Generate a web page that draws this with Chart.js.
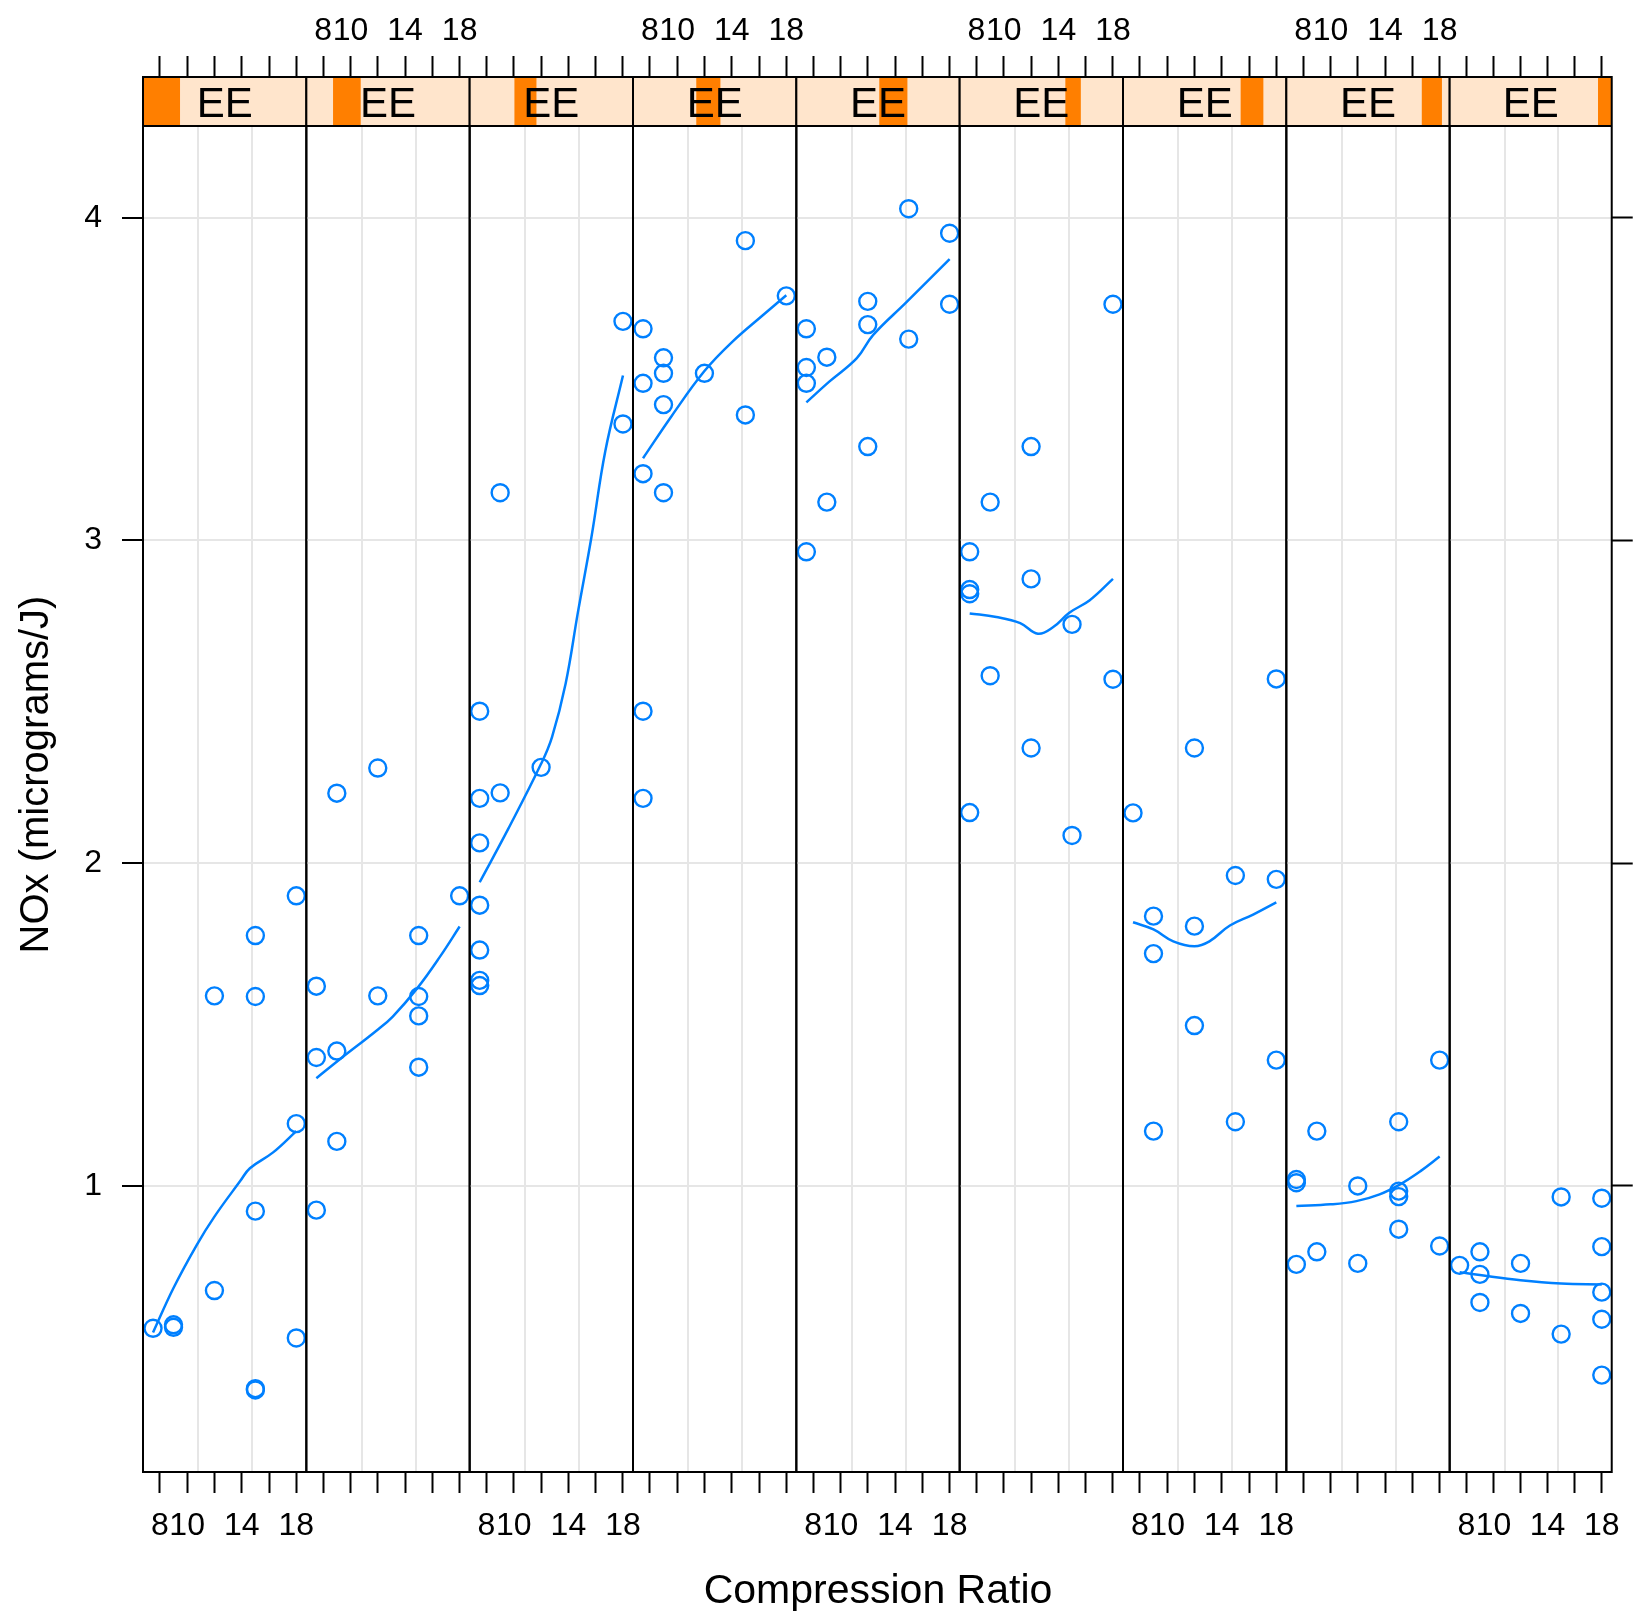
<!DOCTYPE html>
<html>
<head>
<meta charset="utf-8">
<script src="https://cdn.jsdelivr.net/npm/chart.js@4.4.1/dist/chart.umd.min.js"></script>
<style>
  html, body { margin: 0; padding: 0; background: #ffffff; }
  #wrap { position: relative; width: 1635px; height: 1619px; }
  #wrap canvas { position: absolute; left: 0; top: 0; }
</style>
</head>
<body>
<div id="wrap"></div>
<script>
// NOx against compression ratio, one panel per EE shingle interval
const panelC = [
  [7.5, 9, 9, 12, 12, 15, 15, 15, 15, 15, 18, 18, 18],
  [7.5, 7.5, 7.5, 9, 9, 9, 12, 12, 15, 15, 15, 15, 18],
  [7.5, 7.5, 7.5, 7.5, 7.5, 7.5, 7.5, 9, 9, 12, 18, 18],
  [7.5, 7.5, 7.5, 7.5, 7.5, 9, 9, 9, 9, 12, 15, 15, 18],
  [7.5, 7.5, 7.5, 7.5, 9, 9, 12, 12, 12, 15, 15, 18, 18],
  [7.5, 7.5, 7.5, 7.5, 9, 9, 12, 12, 12, 15, 15, 18, 18],
  [7.5, 9, 9, 9, 12, 12, 12, 15, 15, 18, 18, 18],
  [7.5, 7.5, 7.5, 9, 9, 12, 12, 15, 15, 15, 15, 18, 18],
  [7.5, 9, 9, 9, 12, 12, 15, 15, 18, 18, 18, 18, 18]
];
const panelNOx = [
  [0.559, 0.570, 0.562, 1.589, 0.676, 1.776, 1.587, 0.922, 0.372, 0.368, 1.899, 1.193, 0.529],
  [1.619, 1.398, 0.925, 2.217, 1.418, 1.138, 2.295, 1.589, 1.776, 1.587, 1.527, 1.368, 1.899],
  [2.471, 2.201, 2.063, 1.870, 1.731, 1.637, 1.621, 3.148, 2.218, 2.297, 3.679, 3.361],
  [3.656, 3.487, 3.207, 2.471, 2.201, 3.566, 3.518, 3.421, 3.148, 3.518, 3.929, 3.389, 3.758],
  [3.656, 3.536, 3.487, 2.965, 3.568, 3.119, 3.741, 3.669, 3.291, 4.028, 3.624, 3.952, 3.732],
  [2.965, 2.848, 2.835, 2.157, 3.119, 2.581, 3.291, 2.881, 2.357, 2.740, 2.086, 3.732, 2.570],
  [2.156, 1.836, 1.720, 1.170, 2.357, 1.805, 1.497, 1.962, 1.199, 2.571, 1.950, 1.390],
  [1.020, 1.010, 0.757, 1.170, 0.796, 1.000, 0.760, 1.199, 0.984, 0.967, 0.866, 1.390, 0.814],
  [0.754, 0.796, 0.726, 0.639, 0.760, 0.605, 0.966, 0.541, 0.962, 0.812, 0.671, 0.587, 0.414]
];
// smooth fit per panel
const smoothC = [
  [7.5, 9, 10.7, 12, 13.9, 14.6, 16.3, 18],
  [7.5, 9.2, 11.9, 13.1, 14.9, 16.6, 18],
  [7.5, 9.6, 12.0, 12.8, 13.8, 14.7, 15.7, 16.7, 18],
  [7.5, 9.6, 12.0, 14.0, 16.45, 18],
  [7.5, 9.2, 11.2, 12.4, 14.8, 18],
  [7.5, 9.45, 11.2, 12.5, 13.6, 14.8, 16.3, 18],
  [7.5, 9.0, 10.45, 12.0, 13.1, 14.6, 16.3, 18],
  [7.5, 10.0, 11.9, 13.6, 15.1, 16.6, 18],
  [7.5, 9, 12, 15, 18]
];
const smoothNOx = [
  [0.546, 0.684, 0.817, 0.905, 1.016, 1.055, 1.104, 1.170],
  [1.334, 1.392, 1.481, 1.525, 1.613, 1.713, 1.804],
  [1.941, 2.107, 2.308, 2.391, 2.557, 2.778, 3.013, 3.276, 3.511],
  [3.255, 3.386, 3.525, 3.614, 3.704, 3.760],
  [3.428, 3.493, 3.565, 3.637, 3.737, 3.872],
  [2.774, 2.763, 2.744, 2.711, 2.731, 2.776, 2.815, 2.881],
  [1.817, 1.795, 1.758, 1.743, 1.758, 1.807, 1.841, 1.879],
  [0.938, 0.943, 0.953, 0.974, 1.005, 1.046, 1.091],
  [0.733, 0.724, 0.708, 0.698, 0.695]
];
// EE shingle intervals and the full EE range
const eeLow  = [0.535, 0.649, 0.726, 0.805, 0.889, 0.986, 1.037, 1.113, 1.173];
const eeHigh = [0.693, 0.767, 0.820, 0.908, 1.009, 1.052, 1.134, 1.199, 1.232];
const eeRange = [0.535, 1.232];
const stripLabel = 'EE';

const xTicks = [8, 10, 12, 14, 16, 18];
const xLabelled = [8, 10, 14, 18];
const yTicks = [1, 2, 3, 4];
const xRefLines = [10.82, 14.78];
const xTitle = 'Compression Ratio';
const yTitle = 'NOx (micrograms/J)';

// ---- layout ----
const W = 1635, H = 1619;
const PANEL_L = 143, PANEL_R = 1613, PANEL_T = 126, PANEL_B = 1472, STRIP_T = 77;
const X_TITLE_Y = 1592;
const N = panelC.length;
const panelW = (PANEL_R - PANEL_L) / N;
const xLim = [6.765, 18.735];
const yLim = [0.1137, 4.2843];
// the y scale runs on above the panel so the strip sits inside the chart area
const yTop = yLim[1] + (yLim[1] - yLim[0]) * (PANEL_T - STRIP_T) / (PANEL_B - PANEL_T);

const FONT = '"Liberation Sans", Arial, Helvetica, sans-serif';
const BLUE = '#0080ff';
Chart.defaults.font.family = FONT;
Chart.defaults.color = '#000000';

const panelDecor = {
  id: 'panelDecor',
  beforeDatasetsDraw(chart, args, opts) {
    const { ctx, chartArea: a, scales: { x, y } } = chart;
    const k = opts.index;
    const pTop = y.getPixelForValue(yLim[1]);
    const pBot = y.getPixelForValue(yLim[0]);
    const w = a.right - a.left;
    ctx.save();
    // reference lines
    ctx.strokeStyle = '#e6e6e6';
    ctx.lineWidth = 2;
    xRefLines.forEach(v => {
      const px = Math.round(x.getPixelForValue(v));
      ctx.beginPath();
      ctx.moveTo(px, pTop);
      ctx.lineTo(px, pBot);
      ctx.stroke();
    });
    // strip
    ctx.fillStyle = '#ffe5cc';
    ctx.fillRect(a.left, a.top, w, pTop - a.top);
    const f0 = (eeLow[k] - eeRange[0]) / (eeRange[1] - eeRange[0]);
    const f1 = (eeHigh[k] - eeRange[0]) / (eeRange[1] - eeRange[0]);
    ctx.fillStyle = '#ff7f00';
    ctx.fillRect(a.left + f0 * w, a.top, (f1 - f0) * w, pTop - a.top);
    ctx.fillStyle = '#000000';
    ctx.font = '42px ' + FONT;
    ctx.textAlign = 'center';
    ctx.textBaseline = 'middle';
    ctx.fillText(stripLabel, a.left + w / 2, (a.top + pTop) / 2 + 4);
    ctx.restore();
  },
  afterDraw(chart, args, opts) {
    const { ctx, chartArea: a, scales: { y } } = chart;
    const pTop = y.getPixelForValue(yLim[1]);
    ctx.save();
    ctx.strokeStyle = '#000000';
    ctx.lineWidth = 2;
    ctx.strokeRect(a.left, a.top, a.right - a.left, a.bottom - a.top);
    ctx.beginPath();
    ctx.moveTo(a.left, pTop);
    ctx.lineTo(a.right, pTop);
    ctx.stroke();
    // shared x-axis title, centred under the whole row of panels
    if (opts.index === N - 1) {
      ctx.fillStyle = '#000000';
      ctx.font = '41px ' + FONT;
      ctx.textAlign = 'center';
      ctx.textBaseline = 'middle';
      ctx.fillText(xTitle, (PANEL_L + PANEL_R) / 2, X_TITLE_Y);
    }
    ctx.restore();
  }
};

function xAxis(k, position) {
  const showLabels = position === 'bottom' ? k % 2 === 0 : k % 2 === 1;
  return {
    type: 'linear',
    position: position,
    min: xLim[0],
    max: xLim[1],
    afterBuildTicks: s => { s.ticks = xTicks.map(v => ({ value: v })); },
    afterFit: s => { s.height = position === 'bottom' ? H - PANEL_B : STRIP_T; },
    ticks: {
      autoSkip: false, maxRotation: 0, minRotation: 0,
      padding: position === 'bottom' ? 14 : 6,
      color: '#000000',
      font: { size: 32, family: FONT },
      callback: v => (showLabels && xLabelled.includes(v)) ? String(v) : ''
    },
    grid: { drawOnChartArea: false, drawTicks: true, tickLength: 21, tickColor: '#000000', tickWidth: 2 },
    border: { display: false }
  };
}

const wrap = document.getElementById('wrap');
for (let k = 0; k < N; k++) {
  const canvas = document.createElement('canvas');
  canvas.width = W;
  canvas.height = H;
  canvas.style.width = W + 'px';
  canvas.style.height = H + 'px';
  wrap.appendChild(canvas);

  const left = PANEL_L + k * panelW;
  const right = left + panelW;
  const points = panelC[k].map((c, i) => ({ x: c, y: panelNOx[k][i] }));
  const smooth = smoothC[k].map((c, i) => ({ x: c, y: smoothNOx[k][i] }));

  const scales = {
    x: xAxis(k, 'bottom'),
    xTop: xAxis(k, 'top'),
    y: {
      type: 'linear', position: 'left', min: yLim[0], max: yTop,
      afterBuildTicks: s => { s.ticks = yTicks.map(v => ({ value: v })); },
      afterFit: s => { s.width = k === 0 ? PANEL_L : 0; },
      ticks: { display: k === 0, padding: 20, color: '#000000', font: { size: 32, family: FONT } },
      grid: { drawOnChartArea: true, color: '#e6e6e6', lineWidth: 2,
              drawTicks: k === 0, tickLength: 21, tickColor: '#000000', tickWidth: 2 },
      border: { display: false },
      title: { display: k === 0, text: yTitle, color: '#000000',
               font: { size: 40, family: FONT }, padding: { top: 13, bottom: 0 } }
    }
  };
  if (k === N - 1) {
    scales.yRight = {
      type: 'linear', position: 'right', min: yLim[0], max: yTop,
      afterBuildTicks: s => { s.ticks = yTicks.map(v => ({ value: v })); },
      afterFit: s => { s.width = 0; },
      ticks: { display: false },
      grid: { drawOnChartArea: false, drawTicks: true, tickLength: 21, tickColor: '#000000', tickWidth: 2 },
      border: { display: false }
    };
  }

  new Chart(canvas, {
    type: 'scatter',
    data: {
      datasets: [
        {
          type: 'line',
          data: smooth,
          xAxisID: 'x', yAxisID: 'y',
          borderColor: BLUE, borderWidth: 2.5,
          pointRadius: 0, tension: 0.4, fill: false
        },
        {
          type: 'scatter',
          data: points,
          xAxisID: 'x', yAxisID: 'y',
          showLine: false,
          pointStyle: 'circle', pointRadius: 8.5,
          borderColor: BLUE, borderWidth: 2.4,
          backgroundColor: 'rgba(0,0,0,0)'
        }
      ]
    },
    options: {
      responsive: false,
      animation: false,
      devicePixelRatio: 1,
      events: [],
      layout: { padding: { left: k === 0 ? 0 : left, right: W - right, top: 0, bottom: 0 } },
      plugins: { legend: { display: false }, tooltip: { enabled: false }, panelDecor: { index: k } },
      scales: scales
    },
    plugins: [panelDecor]
  });
}
</script>
</body>
</html>
